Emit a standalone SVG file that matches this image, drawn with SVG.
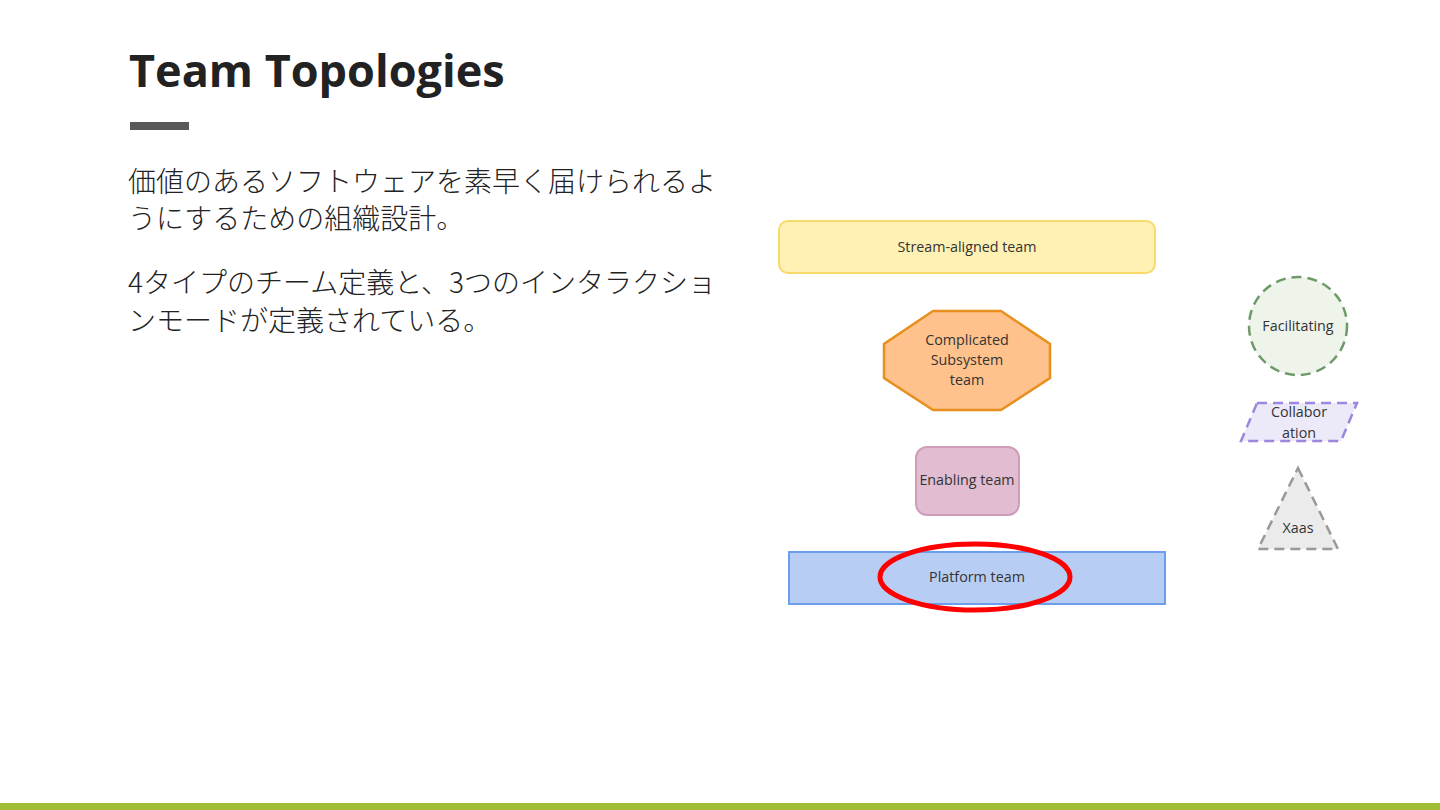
<svg xmlns="http://www.w3.org/2000/svg" width="1440" height="810" viewBox="0 0 1440 810">
<style>
.title{font-family:"Open Sans","Noto Sans",sans-serif;font-weight:700;font-size:45px;fill:#222}
.body{font-family:"Noto Sans CJK JP","Noto Sans",sans-serif;font-weight:300;font-size:28px;fill:#222}
.lbl{font-family:"Open Sans","Noto Sans",sans-serif;font-size:14.3px;fill:#333;text-anchor:middle;dominant-baseline:central}
.dash{stroke-width:2.5;stroke-dasharray:10 6}
</style>
<rect width="1440" height="810" fill="#fff"/>
<text class="title" x="129" y="87">Team Topologies</text>
<rect x="130" y="122" width="59" height="8" fill="#595959"/>
<text class="body" x="128" y="192">価値のあるソフトウェアを素早く届けられるよ</text>
<text class="body" x="128" y="229">うにするための組織設計。</text>
<text class="body" x="128" y="293">4タイプのチーム定義と、3つのインタラクショ</text>
<text class="body" x="128" y="331">ンモードが定義されている。</text>
<g id="connectors"></g>
<g id="stream">
<rect x="779" y="221" width="376" height="52" rx="9" fill="#fff0b3" stroke="#f8da6b" stroke-width="2"/>
<text class="lbl" x="967" y="246">Stream-aligned team</text>
</g>
<g id="complicated">
<polygon points="933,311 1001,311 1050,344 1050,378 1001,410 933,410 884,378 884,344" fill="#ffc28d" stroke="#e8901f" stroke-width="2.5"/>
<text class="lbl" x="967" y="339">Complicated</text>
<text class="lbl" x="967" y="359">Subsystem</text>
<text class="lbl" x="967" y="379">team</text>
</g>
<g id="enabling">
<rect x="916" y="447" width="103" height="68" rx="11" fill="#e2bdd1" stroke="#cf9db8" stroke-width="2"/>
<text class="lbl" x="967" y="479">Enabling team</text>
</g>
<g id="platform">
<rect x="789" y="552" width="376" height="52" fill="#b8cdf3" stroke="#6d9eeb" stroke-width="2"/>
<text class="lbl" x="977" y="576">Platform team</text>
</g>
<g id="highlight">
<ellipse cx="975" cy="577" rx="95" ry="33" fill="none" stroke="#ff0000" stroke-width="5"/>
</g>
<g id="facilitating">
<circle cx="1298" cy="326" r="49" fill="#eef4ea" stroke="#6e9a68" class="dash"/>
<text class="lbl" x="1298" y="325">Facilitating</text>
</g>
<g id="collaboration">
<polygon points="1257,403 1357,403 1341,441 1241,441" fill="#ece9f9" stroke="#9e86e0" class="dash"/>
<text class="lbl" x="1299" y="411">Collabor</text>
<text class="lbl" x="1299" y="432">ation</text>
</g>
<g id="xaas">
<polygon points="1298,468 1338,549 1258,549" fill="#ebebeb" stroke="#999" class="dash"/>
<text class="lbl" x="1298" y="527">Xaas</text>
</g>
<rect x="0" y="803" width="1440" height="7" fill="#9fbe36"/>
</svg>
